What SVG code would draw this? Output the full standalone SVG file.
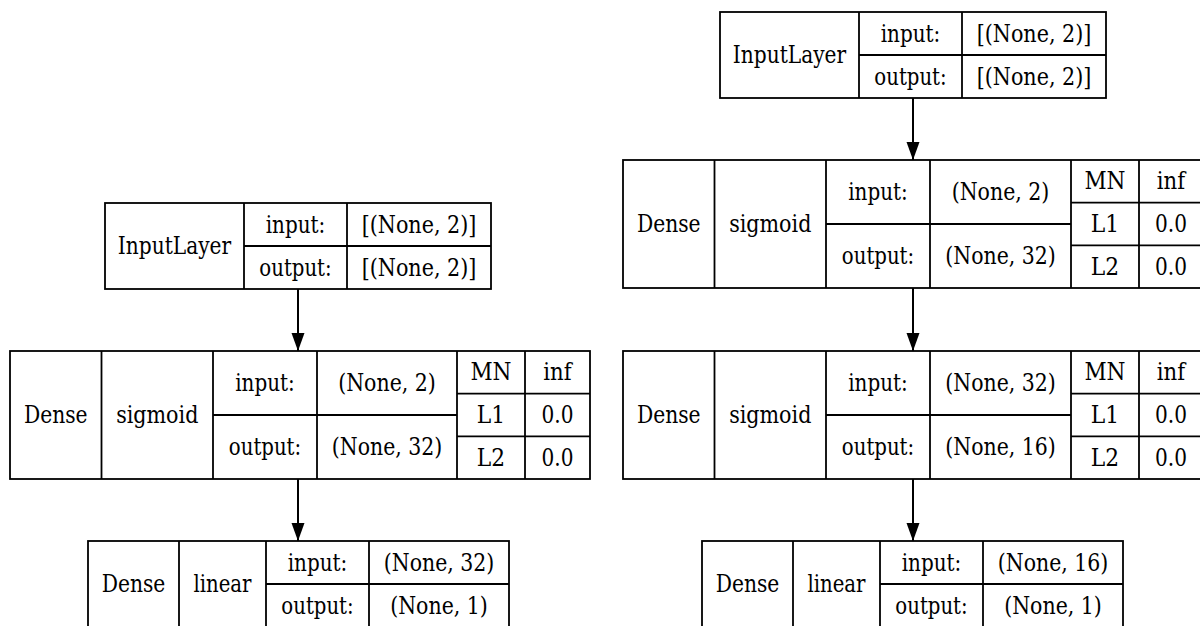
<svg xmlns="http://www.w3.org/2000/svg" width="1200" height="626" viewBox="0 0 1200 626">
<style>
.b{fill:none;stroke:#000;stroke-width:1.8}
.l{stroke:#000;stroke-width:1.8}
text{font-family:'DejaVu Serif','Liberation Serif',serif;font-stretch:condensed;font-size:24px;fill:#000;text-anchor:middle;dominant-baseline:central}
.e{stroke:#000;stroke-width:2;fill:none}
</style>
<defs>
<marker id="ah" markerUnits="userSpaceOnUse" markerWidth="20" markerHeight="14" refX="18" refY="6.5" orient="auto" viewBox="0 0 20 13">
<path d="M0,0 L18,6.5 L0,13 Z" fill="#000"/>
</marker>
</defs>
<rect width="1200" height="626" fill="#fff"/>
<g id="connectors">
<line class="e" x1="298" y1="289" x2="298" y2="351" marker-end="url(#ah)"/>
<line class="e" x1="298" y1="479" x2="298" y2="541" marker-end="url(#ah)"/>
<line class="e" x1="913" y1="98" x2="913" y2="160" marker-end="url(#ah)"/>
<line class="e" x1="913" y1="288" x2="913" y2="351" marker-end="url(#ah)"/>
<line class="e" x1="913" y1="479" x2="913" y2="541" marker-end="url(#ah)"/>
</g>
<g id="left_input">
<rect class="b" x="105" y="203" width="386" height="86"/>
<line class="l" x1="244" y1="203" x2="244" y2="289"/>
<line class="l" x1="347" y1="203" x2="347" y2="289"/>
<line class="l" x1="244" y1="246" x2="491" y2="246"/>
<text x="174.5" y="246" textLength="113.3" lengthAdjust="spacingAndGlyphs">InputLayer</text>
<text x="295.5" y="225" textLength="59.5" lengthAdjust="spacingAndGlyphs">input:</text>
<text x="295.5" y="267.5" textLength="72.3" lengthAdjust="spacingAndGlyphs">output:</text>
<text x="419" y="225" textLength="114.7" lengthAdjust="spacingAndGlyphs">[(None, 2)]</text>
<text x="419" y="267.5" textLength="114.7" lengthAdjust="spacingAndGlyphs">[(None, 2)]</text>
</g>
<g id="left_dense1">
<rect class="b" x="10" y="351" width="580" height="128"/>
<line class="l" x1="101.5" y1="351" x2="101.5" y2="479"/>
<line class="l" x1="213" y1="351" x2="213" y2="479"/>
<line class="l" x1="317" y1="351" x2="317" y2="479"/>
<line class="l" x1="457" y1="351" x2="457" y2="479"/>
<line class="l" x1="525" y1="351" x2="525" y2="479"/>
<line class="l" x1="213" y1="415" x2="457" y2="415"/>
<line class="l" x1="457" y1="393.7" x2="590" y2="393.7"/>
<line class="l" x1="457" y1="436.3" x2="590" y2="436.3"/>
<text x="55.75" y="415" textLength="63.7" lengthAdjust="spacingAndGlyphs">Dense</text>
<text x="157.25" y="415" textLength="82.2" lengthAdjust="spacingAndGlyphs">sigmoid</text>
<text x="265" y="383" textLength="59.5" lengthAdjust="spacingAndGlyphs">input:</text>
<text x="265" y="447" textLength="72.3" lengthAdjust="spacingAndGlyphs">output:</text>
<text x="387" y="383" textLength="97.7" lengthAdjust="spacingAndGlyphs">(None, 2)</text>
<text x="387" y="447" textLength="110.5" lengthAdjust="spacingAndGlyphs">(None, 32)</text>
<text x="491" y="372.3" textLength="41.1" lengthAdjust="spacingAndGlyphs">MN</text>
<text x="557.5" y="372.3" textLength="28.3" lengthAdjust="spacingAndGlyphs">inf</text>
<text x="491" y="415" textLength="28.3" lengthAdjust="spacingAndGlyphs">L1</text>
<text x="557.5" y="415" textLength="31.9" lengthAdjust="spacingAndGlyphs">0.0</text>
<text x="491" y="457.7" textLength="28.3" lengthAdjust="spacingAndGlyphs">L2</text>
<text x="557.5" y="457.7" textLength="31.9" lengthAdjust="spacingAndGlyphs">0.0</text>
</g>
<g id="left_dense2">
<rect class="b" x="88" y="541" width="421" height="90"/>
<line class="l" x1="179" y1="541" x2="179" y2="631"/>
<line class="l" x1="266" y1="541" x2="266" y2="631"/>
<line class="l" x1="369" y1="541" x2="369" y2="631"/>
<line class="l" x1="266" y1="584" x2="509" y2="584"/>
<text x="133.5" y="584" textLength="63.7" lengthAdjust="spacingAndGlyphs">Dense</text>
<text x="222.5" y="584" textLength="58.1" lengthAdjust="spacingAndGlyphs">linear</text>
<text x="317.5" y="563" textLength="59.5" lengthAdjust="spacingAndGlyphs">input:</text>
<text x="317.5" y="605.5" textLength="72.3" lengthAdjust="spacingAndGlyphs">output:</text>
<text x="439" y="563" textLength="110.5" lengthAdjust="spacingAndGlyphs">(None, 32)</text>
<text x="439" y="605.5" textLength="97.7" lengthAdjust="spacingAndGlyphs">(None, 1)</text>
</g>
<g id="right_input">
<rect class="b" x="720" y="12" width="386" height="86"/>
<line class="l" x1="859" y1="12" x2="859" y2="98"/>
<line class="l" x1="962" y1="12" x2="962" y2="98"/>
<line class="l" x1="859" y1="55" x2="1106" y2="55"/>
<text x="789.5" y="55" textLength="113.3" lengthAdjust="spacingAndGlyphs">InputLayer</text>
<text x="910.5" y="34" textLength="59.5" lengthAdjust="spacingAndGlyphs">input:</text>
<text x="910.5" y="76.5" textLength="72.3" lengthAdjust="spacingAndGlyphs">output:</text>
<text x="1034" y="34" textLength="114.7" lengthAdjust="spacingAndGlyphs">[(None, 2)]</text>
<text x="1034" y="76.5" textLength="114.7" lengthAdjust="spacingAndGlyphs">[(None, 2)]</text>
</g>
<g id="right_dense1">
<rect class="b" x="623" y="160" width="580" height="128"/>
<line class="l" x1="714.5" y1="160" x2="714.5" y2="288"/>
<line class="l" x1="826" y1="160" x2="826" y2="288"/>
<line class="l" x1="930" y1="160" x2="930" y2="288"/>
<line class="l" x1="1071" y1="160" x2="1071" y2="288"/>
<line class="l" x1="1139" y1="160" x2="1139" y2="288"/>
<line class="l" x1="826" y1="224" x2="1071" y2="224"/>
<line class="l" x1="1071" y1="202.7" x2="1203" y2="202.7"/>
<line class="l" x1="1071" y1="245.3" x2="1203" y2="245.3"/>
<text x="668.75" y="224" textLength="63.7" lengthAdjust="spacingAndGlyphs">Dense</text>
<text x="770.25" y="224" textLength="82.2" lengthAdjust="spacingAndGlyphs">sigmoid</text>
<text x="878" y="192" textLength="59.5" lengthAdjust="spacingAndGlyphs">input:</text>
<text x="878" y="256" textLength="72.3" lengthAdjust="spacingAndGlyphs">output:</text>
<text x="1000.5" y="192" textLength="97.7" lengthAdjust="spacingAndGlyphs">(None, 2)</text>
<text x="1000.5" y="256" textLength="110.5" lengthAdjust="spacingAndGlyphs">(None, 32)</text>
<text x="1105" y="181.3" textLength="41.1" lengthAdjust="spacingAndGlyphs">MN</text>
<text x="1171" y="181.3" textLength="28.3" lengthAdjust="spacingAndGlyphs">inf</text>
<text x="1105" y="224" textLength="28.3" lengthAdjust="spacingAndGlyphs">L1</text>
<text x="1171" y="224" textLength="31.9" lengthAdjust="spacingAndGlyphs">0.0</text>
<text x="1105" y="266.7" textLength="28.3" lengthAdjust="spacingAndGlyphs">L2</text>
<text x="1171" y="266.7" textLength="31.9" lengthAdjust="spacingAndGlyphs">0.0</text>
</g>
<g id="right_dense2">
<rect class="b" x="623" y="351" width="580" height="128"/>
<line class="l" x1="714.5" y1="351" x2="714.5" y2="479"/>
<line class="l" x1="826" y1="351" x2="826" y2="479"/>
<line class="l" x1="930" y1="351" x2="930" y2="479"/>
<line class="l" x1="1071" y1="351" x2="1071" y2="479"/>
<line class="l" x1="1139" y1="351" x2="1139" y2="479"/>
<line class="l" x1="826" y1="415" x2="1071" y2="415"/>
<line class="l" x1="1071" y1="393.7" x2="1203" y2="393.7"/>
<line class="l" x1="1071" y1="436.3" x2="1203" y2="436.3"/>
<text x="668.75" y="415" textLength="63.7" lengthAdjust="spacingAndGlyphs">Dense</text>
<text x="770.25" y="415" textLength="82.2" lengthAdjust="spacingAndGlyphs">sigmoid</text>
<text x="878" y="383" textLength="59.5" lengthAdjust="spacingAndGlyphs">input:</text>
<text x="878" y="447" textLength="72.3" lengthAdjust="spacingAndGlyphs">output:</text>
<text x="1000.5" y="383" textLength="110.5" lengthAdjust="spacingAndGlyphs">(None, 32)</text>
<text x="1000.5" y="447" textLength="110.5" lengthAdjust="spacingAndGlyphs">(None, 16)</text>
<text x="1105" y="372.3" textLength="41.1" lengthAdjust="spacingAndGlyphs">MN</text>
<text x="1171" y="372.3" textLength="28.3" lengthAdjust="spacingAndGlyphs">inf</text>
<text x="1105" y="415" textLength="28.3" lengthAdjust="spacingAndGlyphs">L1</text>
<text x="1171" y="415" textLength="31.9" lengthAdjust="spacingAndGlyphs">0.0</text>
<text x="1105" y="457.7" textLength="28.3" lengthAdjust="spacingAndGlyphs">L2</text>
<text x="1171" y="457.7" textLength="31.9" lengthAdjust="spacingAndGlyphs">0.0</text>
</g>
<g id="right_dense3">
<rect class="b" x="702" y="541" width="421" height="90"/>
<line class="l" x1="793" y1="541" x2="793" y2="631"/>
<line class="l" x1="880" y1="541" x2="880" y2="631"/>
<line class="l" x1="983" y1="541" x2="983" y2="631"/>
<line class="l" x1="880" y1="584" x2="1123" y2="584"/>
<text x="747.5" y="584" textLength="63.7" lengthAdjust="spacingAndGlyphs">Dense</text>
<text x="836.5" y="584" textLength="58.1" lengthAdjust="spacingAndGlyphs">linear</text>
<text x="931.5" y="563" textLength="59.5" lengthAdjust="spacingAndGlyphs">input:</text>
<text x="931.5" y="605.5" textLength="72.3" lengthAdjust="spacingAndGlyphs">output:</text>
<text x="1053" y="563" textLength="110.5" lengthAdjust="spacingAndGlyphs">(None, 16)</text>
<text x="1053" y="605.5" textLength="97.7" lengthAdjust="spacingAndGlyphs">(None, 1)</text>
</g>
</svg>
